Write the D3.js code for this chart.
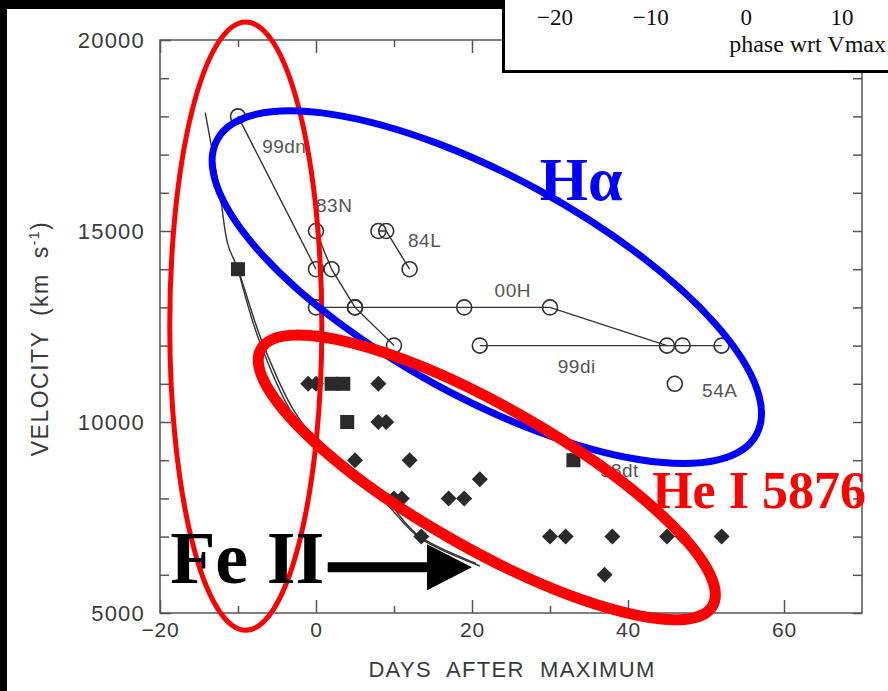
<!DOCTYPE html>
<html>
<head>
<meta charset="utf-8">
<script src="https://cdn.jsdelivr.net/npm/d3@7"></script>
<style>
  html, body { margin: 0; padding: 0; background: #fff; overflow: hidden; }
  svg { display: block; }
</style>
</head>
<body>
<svg id="chart" width="888" height="691"></svg>
<script>
// ---- data -------------------------------------------------------------
// x tick labels (days after maximum) and y tick labels (km/s)
const xTickLabels = [-20, 0, 20, 40, 60];
const xMinorTicks = [-10, 10, 30, 50];
const yTickLabels = [5000, 10000, 15000, 20000];
const yMinorTicks = [6000, 7000, 8000, 9000, 11000, 12000, 13000, 14000, 16000, 17000, 18000, 19000];

// H-alpha velocities (open circles), one array per supernova: [day, km/s]
const sn99dn = [[-10, 18000], [0, 14000]];
const sn83N  = [[0, 15000], [2, 14000], [5, 13000], [10, 12000]];
const sn84L  = [[8, 15000], [9, 15000], [12, 14000]];
const sn00H  = [[0, 13000], [5, 13000], [19, 13000], [30, 13000], [45, 12000]];
const sn99di = [[21, 12000], [47, 12000], [52, 12000]];
const sn54A  = [[46, 11000]];

// He I 5876 velocities (filled diamonds)
const heDiamonds = [
  [-1, 11000], [0, 11000], [8, 11000],
  [8, 10000], [9, 10000],
  [5, 9000], [12, 9000],
  [10, 8000], [11, 8000], [17, 8000], [19, 8000], [21, 8500],
  [13.5, 7000], [30, 7000], [32, 7000], [38, 7000], [45, 7000], [47, 7000], [52, 7000],
  [37, 6000]
];
// filled squares
const heSquares = [[-10, 14000], [2, 11000], [3.5, 11000], [4, 10000], [33, 9000]];

// Fe II velocity curves (lines)
const feCurveA = [[-14.2, 18100], [-12.3, 15950], [-11.3, 14650], [-10, 14000], [-7, 12150],
                  [-2.7, 10250], [1.5, 9200], [8.8, 8000], [13, 7050], [20.5, 6300]];
const feCurveB = [[-10, 14000], [-7.4, 12200], [-3, 10200], [1.2, 9120], [8.6, 7940],
                  [13.2, 6980], [21, 6230]];

// supernova name labels: text, day, km/s of the label baseline
const snLabels = [
  ["99dn", -6.9, 17040], ["83N", 0, 15500], ["84L", 11.8, 14580],
  ["00H", 22.9, 13270], ["99di", 31, 11280], ["54A", 49.5, 10650], ["98dt", 36.4, 8560]
];

// inset fragment: phase axis tick labels
const insetTicks = [-20, -10, 0, 10];

// ---- scales ------------------------------------------------------------
const svg = d3.select("#chart");
const x = d3.scaleLinear().domain([-20, 70]).range([160, 862]);
const y = d3.scaleLinear().domain([5000, 20000]).range([613, 40]);
const pxPerDay = x(1) - x(0);

const axisColor = "#555";
const textColor = "#3a3a3a";
const sansFont = "'Liberation Sans', Arial, sans-serif";
const serifFont = "'Liberation Serif', 'Times New Roman', serif";

svg.append("rect").attr("width", 888).attr("height", 691).attr("fill", "#fff");

// ---- axes --------------------------------------------------------------
const gAx = svg.append("g").attr("font-family", sansFont);

function styleAxis(g) {
  g.select(".domain").remove();
  g.selectAll("line").attr("stroke", axisColor).attr("stroke-width", 1.5);
  g.selectAll("text").attr("fill", textColor).attr("font-size", 21)
    .attr("letter-spacing", 0.8).attr("font-family", sansFont);
}

const fmtMinus = d => (d < 0 ? "\u2212" + Math.abs(d) : String(d));

gAx.append("g").attr("transform", `translate(0,${y(5000)})`)
  .call(d3.axisBottom(x).tickValues(xTickLabels).tickFormat(fmtMinus).tickSizeInner(-13).tickSizeOuter(0).tickPadding(9))
  .call(styleAxis);
gAx.append("g").attr("transform", `translate(0,${y(5000)})`)
  .call(d3.axisBottom(x).tickValues(xMinorTicks).tickFormat("").tickSizeInner(-7).tickSizeOuter(0))
  .call(styleAxis);
gAx.append("g").attr("transform", `translate(0,${y(20000)})`)
  .call(d3.axisTop(x).tickValues(xTickLabels).tickFormat("").tickSizeInner(-13).tickSizeOuter(0))
  .call(styleAxis);
gAx.append("g").attr("transform", `translate(0,${y(20000)})`)
  .call(d3.axisTop(x).tickValues(xMinorTicks).tickFormat("").tickSizeInner(-7).tickSizeOuter(0))
  .call(styleAxis);

gAx.append("g").attr("transform", `translate(${x(-20)},0)`)
  .call(d3.axisLeft(y).tickValues(yTickLabels).tickFormat(d3.format("d")).tickSizeInner(-11).tickSizeOuter(0).tickPadding(15))
  .call(styleAxis)
  .call(g => g.selectAll("text").attr("font-size", 22).attr("letter-spacing", 1.2));
gAx.append("g").attr("transform", `translate(${x(-20)},0)`)
  .call(d3.axisLeft(y).tickValues(yMinorTicks).tickFormat("").tickSizeInner(-9).tickSizeOuter(0))
  .call(styleAxis);
gAx.append("g").attr("transform", `translate(${x(70)},0)`)
  .call(d3.axisRight(y).tickValues(yTickLabels.concat(yMinorTicks)).tickFormat("").tickSizeInner(-9).tickSizeOuter(0))
  .call(styleAxis);

// frame
svg.append("rect")
  .attr("x", x(-20)).attr("y", y(20000))
  .attr("width", x(70) - x(-20)).attr("height", y(5000) - y(20000))
  .attr("fill", "none").attr("stroke", axisColor).attr("stroke-width", 1.5);

// axis titles
svg.append("text")
  .attr("x", (x(-20) + x(70)) / 2 + 1).attr("y", 677)
  .attr("text-anchor", "middle").attr("font-family", sansFont).attr("font-size", 22)
  .attr("word-spacing", 8).attr("letter-spacing", 1.3)
  .attr("fill", textColor).text("DAYS AFTER MAXIMUM");

const yTitle = svg.append("text")
  .attr("transform", `translate(48,${(y(5000) + y(20000)) / 2 + 12}) rotate(-90)`)
  .attr("text-anchor", "middle").attr("font-family", sansFont).attr("font-size", 23)
  .attr("word-spacing", 7).attr("letter-spacing", 1.5).attr("fill", textColor);
yTitle.append("tspan").text("VELOCITY (km s");
yTitle.append("tspan").attr("dy", -9).attr("font-size", 14).text("-1");
yTitle.append("tspan").attr("dy", 9).text(")");

// ---- data marks --------------------------------------------------------
const gData = svg.append("g");
const line = d3.line().x(d => x(d[0])).y(d => y(d[1]));
const curve = d3.line().x(d => x(d[0])).y(d => y(d[1])).curve(d3.curveCatmullRom.alpha(0.5));

[feCurveA, feCurveB].forEach(c => {
  gData.append("path").attr("d", curve(c)).attr("fill", "none")
    .attr("stroke", "#333").attr("stroke-width", 1.4);
});

const haSeries = [sn99dn, sn83N, sn84L, sn00H, sn99di, sn54A];
haSeries.forEach(s => {
  if (s.length > 1) {
    gData.append("path").attr("d", line(s)).attr("fill", "none")
      .attr("stroke", "#333").attr("stroke-width", 1.4);
  }
});
haSeries.forEach(s => {
  gData.selectAll(null).data(s).enter().append("circle")
    .attr("cx", d => x(d[0])).attr("cy", d => y(d[1])).attr("r", 7.5)
    .attr("fill", "none").attr("stroke", "#333").attr("stroke-width", 1.6);
});

const dHalf = 8;
gData.selectAll(null).data(heDiamonds).enter().append("path")
  .attr("d", d => {
    const cx = x(d[0]), cy = y(d[1]);
    return `M${cx},${cy - dHalf}L${cx + dHalf},${cy}L${cx},${cy + dHalf}L${cx - dHalf},${cy}Z`;
  })
  .attr("fill", "#2a2a2a");

const sq = 14;
gData.selectAll(null).data(heSquares).enter().append("rect")
  .attr("x", d => x(d[0]) - sq / 2).attr("y", d => y(d[1]) - sq / 2)
  .attr("width", sq).attr("height", sq).attr("fill", "#2a2a2a");

gData.selectAll(null).data(snLabels).enter().append("text")
  .attr("x", d => x(d[1])).attr("y", d => y(d[2]))
  .attr("font-family", sansFont).attr("font-size", 19).attr("letter-spacing", 0.5).attr("fill", "#555")
  .text(d => d[0]);

// ---- annotation overlays -------------------------------------------------
// ellipses: centre in data units, semi-axes in days, rotation in degrees
const ellipses = [
  { day: -9.0, vel: 12510, a: 9.75, b: 39.0, rot: 0, color: "#ff0000", width: 5 },
  { day: 21.9, vel: 13530, a: 39.4, b: 14.1, rot: 28.7, color: "#0000ff", width: 7 },
  { day: 21.9, vel: 8550, a: 33.3, b: 9.1, rot: 29.6, color: "#ff0000", width: 11 }
];
svg.append("g").selectAll("ellipse").data(ellipses).enter().append("ellipse")
  .attr("transform", d => `translate(${x(d.day)},${y(d.vel)}) rotate(${d.rot})`)
  .attr("rx", d => d.a * pxPerDay).attr("ry", d => d.b * pxPerDay)
  .attr("fill", "none").attr("stroke", d => d.color).attr("stroke-width", d => d.width);

const notes = [
  { text: "H\u03b1", day: 28.7, vel: 15810, size: 62, color: "#0000ff" },
  { text: "He I 5876", day: 43.1, vel: 7750, size: 52, color: "#ff0000" },
  { text: "Fe II", day: -18.7, vel: 5790, size: 74, color: "#000" }
];
svg.append("g").selectAll("text").data(notes).enter().append("text")
  .attr("x", d => x(d.day)).attr("y", d => y(d.vel))
  .attr("font-family", serifFont).attr("font-weight", "bold")
  .attr("font-size", d => d.size).attr("fill", d => d.color).text(d => d.text);

// arrow pointing at the Fe II curves
const arrowVel = 6200, arrowFrom = 1.5, arrowTo = 20;
const ay = y(arrowVel);
svg.append("line")
  .attr("x1", x(arrowFrom)).attr("x2", x(arrowTo) - 44).attr("y1", ay).attr("y2", ay)
  .attr("stroke", "#000").attr("stroke-width", 10);
svg.append("path")
  .attr("d", `M${x(arrowTo) - 45},${ay - 23}L${x(arrowTo)},${ay}L${x(arrowTo) - 45},${ay + 23}Z`)
  .attr("fill", "#000");

// ---- page frame and inset fragment ----------------------------------------
svg.append("rect").attr("x", 0).attr("y", 0).attr("width", 888).attr("height", 9).attr("fill", "#000");
svg.append("rect").attr("x", 0).attr("y", 0).attr("width", 7).attr("height", 691).attr("fill", "#000");

const inset = svg.append("g");
inset.append("rect").attr("x", 503.5).attr("y", -5).attr("width", 400).attr("height", 76.5)
  .attr("fill", "#fff").attr("stroke", "#000").attr("stroke-width", 3);
const phase = d3.scaleLinear().domain([-20, 10]).range([555, 842]);
inset.selectAll(null).data(insetTicks).enter().append("text")
  .attr("x", d => phase(d)).attr("y", 25).attr("text-anchor", "middle")
  .attr("font-family", serifFont).attr("font-size", 23).attr("fill", "#111")
  .text(fmtMinus);
inset.append("text").attr("x", 886).attr("y", 52).attr("text-anchor", "end")
  .attr("font-family", serifFont).attr("font-size", 24).attr("fill", "#111")
  .text("phase wrt Vmax");
</script>
</body>
</html>
